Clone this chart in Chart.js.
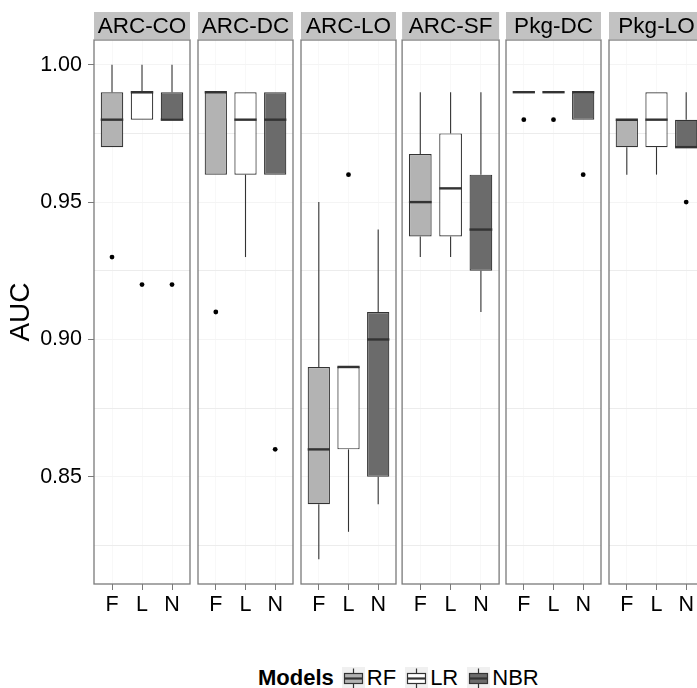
<!DOCTYPE html>
<html>
<head>
<meta charset="utf-8">
<script src="https://cdn.jsdelivr.net/npm/chart.js@4"></script>
<style>
  body { margin: 0; background: #fff; }
  #wrap { position: relative; width: 697px; height: 688px; overflow: hidden; background: #fff; }
  #wrap canvas.panel { position: absolute; top: 0; }
  #legend {
    position: absolute; left: 258px; top: 665px; height: 26px;
    display: flex; align-items: center;
    font-family: "Liberation Sans", Arial, sans-serif; font-size: 22px; color: #000;
  }
  #legend b { margin-right: 8px; }
  #legend canvas { margin-right: 2px; }
  #legend span { margin-right: 9px; }
</style>
</head>
<body>
<div id="wrap">
  <div id="legend"><b>Models</b></div>
</div>
<script>
// AUC per data set (facet) and model, summarised as box plots
const facets = ['ARC-CO', 'ARC-DC', 'ARC-LO', 'ARC-SF', 'Pkg-DC', 'Pkg-LO'];
const models = ['RF', 'LR', 'NBR'];
const tickLabels = ['F', 'L', 'N'];
const yTicks = [0.825, 0.85, 0.875, 0.9, 0.925, 0.95, 0.975, 1.0];

// rows = facets, columns = RF, LR, NBR
const whiskerLow = [
  [0.97, 0.98, 0.98],
  [0.96, 0.93, 0.96],
  [0.82, 0.83, 0.84],
  [0.93, 0.93, 0.91],
  [0.99, 0.99, 0.98],
  [0.96, 0.96, 0.97]
];
const q1 = [
  [0.97, 0.98, 0.98],
  [0.96, 0.96, 0.96],
  [0.84, 0.86, 0.85],
  [0.9375, 0.9375, 0.925],
  [0.99, 0.99, 0.98],
  [0.97, 0.97, 0.97]
];
const median = [
  [0.98, 0.99, 0.98],
  [0.99, 0.98, 0.98],
  [0.86, 0.89, 0.90],
  [0.95, 0.955, 0.94],
  [0.99, 0.99, 0.99],
  [0.98, 0.98, 0.97]
];
const q3 = [
  [0.99, 0.99, 0.99],
  [0.99, 0.99, 0.99],
  [0.89, 0.89, 0.91],
  [0.9675, 0.975, 0.96],
  [0.99, 0.99, 0.99],
  [0.98, 0.99, 0.98]
];
const whiskerHigh = [
  [1.00, 1.00, 1.00],
  [0.99, 0.99, 0.99],
  [0.95, 0.89, 0.94],
  [0.99, 0.99, 0.99],
  [0.99, 0.99, 0.99],
  [0.98, 0.99, 0.99]
];
const outliers = [
  [[0.93], [0.92], [0.92]],
  [[0.91], [], [0.86]],
  [[], [0.96], []],
  [[], [], []],
  [[0.98], [0.98], [0.96]],
  [[], [], [0.95]]
];

const fills = ['#b3b3b3', '#ffffff', '#6b6b6b'];
const LINE = '#333333';
const FRAME = '#7a7a7a';

// layout in page pixels
const AXIS_W = 94;
const PANEL_W = 97;
const PANEL_STEP = 102.7;
const PLOT_TOP = 40;
const PLOT_BOTTOM = 584;
const CANVAS_H = 640;
const STRIP_TOP = 12;
const STRIP_BOTTOM = 39;

Chart.defaults.font.family = '"Liberation Sans", Arial, sans-serif';
Chart.defaults.color = '#111';

const isMajor = v => Math.abs(Math.round(v * 1000) % 50) < 1;

const boxParts = {
  id: 'boxParts',
  beforeDatasetsDraw(chart, args, opts) {
    const { ctx, scales: { x, y } } = chart;
    const f = opts.facet;
    ctx.save();
    ctx.strokeStyle = LINE;
    ctx.lineWidth = 1.1;
    for (let k = 0; k < models.length; k++) {
      const px = x.getPixelForValue(k + 1);
      ctx.beginPath();
      ctx.moveTo(px, y.getPixelForValue(whiskerLow[f][k]));
      ctx.lineTo(px, y.getPixelForValue(q1[f][k]));
      ctx.moveTo(px, y.getPixelForValue(q3[f][k]));
      ctx.lineTo(px, y.getPixelForValue(whiskerHigh[f][k]));
      ctx.stroke();
    }
    ctx.restore();
  },
  afterDatasetsDraw(chart, args, opts) {
    const { ctx, scales: { x, y } } = chart;
    const f = opts.facet;
    const bars = chart.getDatasetMeta(0).data;
    ctx.save();
    ctx.strokeStyle = LINE;
    ctx.lineWidth = 2.4;
    for (let k = 0; k < models.length; k++) {
      const px = x.getPixelForValue(k + 1);
      const half = bars[k].width / 2;
      const py = y.getPixelForValue(median[f][k]);
      ctx.beginPath();
      ctx.moveTo(px - half, py);
      ctx.lineTo(px + half, py);
      ctx.stroke();
    }
    ctx.restore();
  },
  afterDraw(chart, args, opts) {
    const { ctx, chartArea: a } = chart;
    ctx.save();
    // facet strip
    ctx.fillStyle = '#c2c2c2';
    ctx.fillRect(a.left, STRIP_TOP, a.right - a.left, STRIP_BOTTOM - STRIP_TOP);
    ctx.fillStyle = '#000';
    ctx.font = '22.5px "Liberation Sans", Arial, sans-serif';
    ctx.textAlign = 'center';
    ctx.textBaseline = 'middle';
    ctx.fillText(facets[opts.facet], (a.left + a.right) / 2, (STRIP_TOP + STRIP_BOTTOM) / 2 + 1);
    // panel frame
    ctx.strokeStyle = FRAME;
    ctx.lineWidth = 1.3;
    ctx.strokeRect(a.left, a.top, a.right - a.left, a.bottom - a.top);
    ctx.restore();
  }
};

function makePanel(f) {
  const panelLeft = AXIS_W + f * PANEL_STEP;
  const first = f === 0;
  const canvasLeft = first ? 0 : Math.floor(panelLeft) - 2;
  const padLeft = first ? 0 : panelLeft - canvasLeft;
  const width = Math.ceil(panelLeft - canvasLeft + PANEL_W + 3);

  const canvas = document.createElement('canvas');
  canvas.className = 'panel';
  canvas.width = width;
  canvas.height = CANVAS_H;
  canvas.style.left = canvasLeft + 'px';
  canvas.style.width = width + 'px';
  canvas.style.height = CANVAS_H + 'px';
  document.getElementById('wrap').appendChild(canvas);

  const boxes = models.map((m, k) => ({ x: k + 1, y: [q1[f][k], q3[f][k]] }));
  const points = [];
  models.forEach((m, k) => outliers[f][k].forEach(v => points.push({ x: k + 1, y: v })));

  new Chart(canvas.getContext('2d'), {
    type: 'bar',
    data: {
      datasets: [{
        label: 'box',
        data: boxes,
        backgroundColor: fills,
        borderColor: LINE,
        borderWidth: 1.2,
        borderSkipped: false,
        categoryPercentage: 1,
        barPercentage: 0.75
      }, {
        type: 'scatter',
        label: 'outliers',
        data: points,
        backgroundColor: '#000',
        borderWidth: 0,
        pointRadius: 2.4
      }]
    },
    options: {
      responsive: false,
      animation: false,
      devicePixelRatio: 1,
      layout: { padding: { top: PLOT_TOP, left: padLeft, right: width - padLeft - (first ? AXIS_W : 0) - PANEL_W, bottom: 0 } },
      plugins: {
        legend: { display: false },
        tooltip: { enabled: false },
        boxParts: { facet: f }
      },
      scales: {
        x: {
          type: 'linear',
          min: 0.4,
          max: 3.6,
          offset: false,
          bounds: 'data',
          afterBuildTicks: s => { s.ticks = tickLabels.map((t, k) => ({ value: k + 1 })); },
          afterFit: s => { s.height = CANVAS_H - PLOT_BOTTOM; },
          ticks: {
            callback: v => tickLabels[Math.round(v) - 1],
            font: { size: 21.5 },
            color: '#000',
            padding: 2,
            maxRotation: 0,
            autoSkip: false
          },
          grid: { offset: false, color: '#f8f8f8', tickColor: FRAME, tickLength: 6, lineWidth: 1 },
          border: { display: false }
        },
        y: {
          min: 0.811,
          max: 1.009,
          bounds: 'data',
          afterBuildTicks: s => { s.ticks = yTicks.map(v => ({ value: v })); },
          afterFit: s => { s.width = first ? AXIS_W : 0; },
          ticks: {
            display: first,
            callback: v => isMajor(v) ? v.toFixed(2) : '',
            font: { size: 21.5 },
            color: '#000',
            padding: 6,
            autoSkip: false
          },
          grid: {
            drawTicks: first,
            tickLength: 6,
            color: c => isMajor(c.tick.value) ? '#f4f4f4' : '#ececec',
            tickColor: c => isMajor(c.tick.value) ? FRAME : 'rgba(0,0,0,0)',
            lineWidth: 1
          },
          border: { display: false },
          title: {
            display: first,
            text: 'AUC',
            font: { size: 28 },
            color: '#000',
            padding: { top: 4, bottom: 0 }
          }
        }
      }
    },
    plugins: [boxParts]
  });
}

facets.forEach((name, f) => makePanel(f));

// legend keys: small box-and-whisker glyphs
function drawKey(fill) {
  const c = document.createElement('canvas');
  c.width = 23; c.height = 23;
  const g = c.getContext('2d');
  g.fillStyle = '#f0f0f0';
  g.fillRect(0, 0, 23, 23);
  g.strokeStyle = LINE;
  g.lineWidth = 1.2;
  g.beginPath();
  g.moveTo(11.5, 1.5); g.lineTo(11.5, 21.5);
  g.stroke();
  g.fillStyle = fill;
  g.fillRect(2.5, 6.5, 18, 10);
  g.strokeRect(2.5, 6.5, 18, 10);
  g.lineWidth = 2.2;
  g.beginPath();
  g.moveTo(2.5, 11.5); g.lineTo(20.5, 11.5);
  g.stroke();
  return c;
}

const legend = document.getElementById('legend');
models.forEach((m, k) => {
  legend.appendChild(drawKey(fills[k]));
  const s = document.createElement('span');
  s.textContent = m;
  legend.appendChild(s);
});
</script>
</body>
</html>
